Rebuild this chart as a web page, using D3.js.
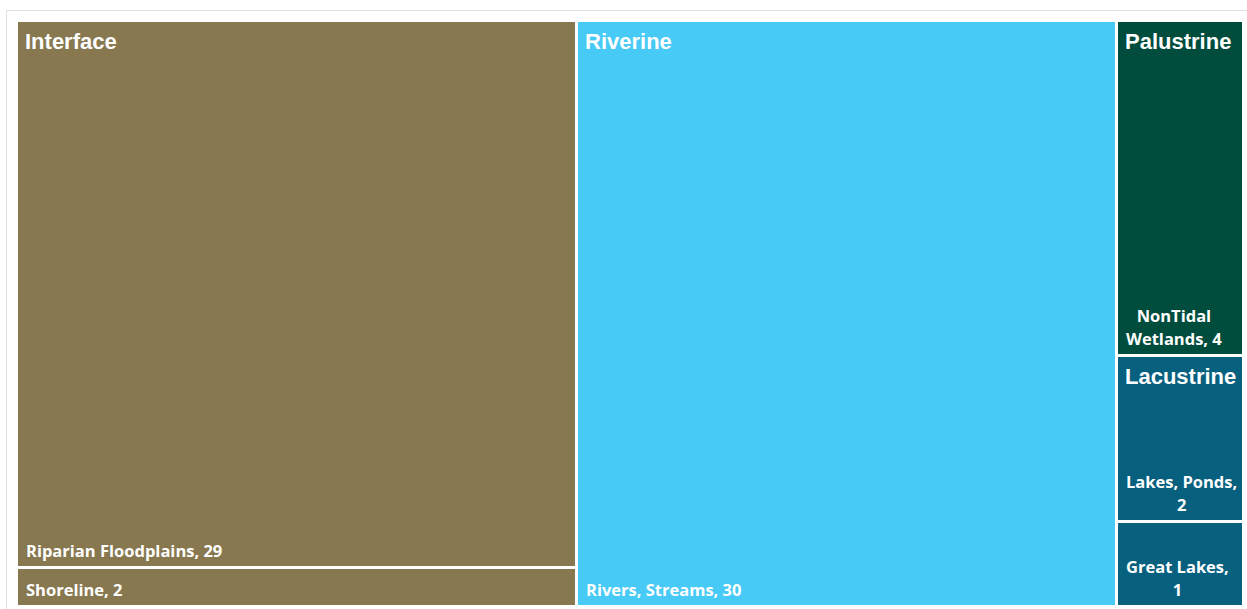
<!DOCTYPE html>
<html>
<head>
<meta charset="utf-8">
<script src="https://cdn.jsdelivr.net/npm/d3@7"></script>
<style>
  html, body { margin: 0; padding: 0; background: #fff; }
  svg { display: block; }
</style>
</head>
<body>
<svg id="chart" width="1247" height="609"></svg>
<script>
// Wetland / water-body types grouped by system, with counts
const groups = ["Interface", "Riverine", "Palustrine", "Lacustrine"];
const groupColors = ["#877850", "#47CAF5", "#004C3D", "#08607F"];
const leafGroup = ["Interface", "Interface", "Riverine", "Palustrine", "Lacustrine", "Lacustrine"];
const leafNames = ["Riparian Floodplains", "Shoreline", "Rivers, Streams", "NonTidal Wetlands", "Lakes, Ponds", "Great Lakes"];
const leafValues = [29, 2, 30, 4, 2, 1];

const svg = d3.select("#chart");
const W = 1247, H = 609;

// light frame around the visual
svg.append("rect")
  .attr("x", 6.5).attr("y", 10.5)
  .attr("width", W + 20).attr("height", H + 20)
  .attr("fill", "none").attr("stroke", "#e2e0e4").attr("stroke-width", 1);

const box = { x0: 18, y0: 22, x1: 1242, y1: 605 };
const bw = box.x1 - box.x0, bh = box.y1 - box.y0;
const gap = 3;

const tree = {
  name: "root",
  children: groups.map(g => ({
    name: g,
    children: leafNames
      .map((n, i) => ({ name: n, value: leafValues[i], group: leafGroup[i] }))
      .filter(d => d.group === g)
  }))
};

const root = d3.hierarchy(tree).sum(d => d.value || 0)
  .sort((a, b) => b.value - a.value);

d3.treemap()
  .tile(d3.treemapSquarify.ratio(1))
  .size([bw, bh])(root);

// white separators: pull every edge that is not on the outer boundary in by half the gap
const inset = (v, lo, hi, dir) => {
  if (dir < 0) return v > lo + 0.5 ? v + gap / 2 : v;
  return v < hi - 0.5 ? v - gap / 2 : v;
};
root.each(d => {
  d.rx0 = Math.round(inset(d.x0, 0, bw, -1));
  d.rx1 = Math.round(inset(d.x1, 0, bw, 1));
  d.ry0 = Math.round(inset(d.y0, 0, bh, -1));
  d.ry1 = Math.round(inset(d.y1, 0, bh, 1));
});

const color = d3.scaleOrdinal(groups, groupColors);

const g = svg.append("g").attr("transform", `translate(${box.x0},${box.y0})`);

// leaf cells
g.selectAll("rect.leaf")
  .data(root.leaves())
  .join("rect")
  .attr("class", "leaf")
  .attr("x", d => d.rx0).attr("y", d => d.ry0)
  .attr("width", d => d.rx1 - d.rx0).attr("height", d => d.ry1 - d.ry0)
  .attr("fill", d => color(d.parent.data.name));

// group headers
g.selectAll("text.group")
  .data(root.children)
  .join("text")
  .attr("class", "group")
  .attr("x", d => d.rx0 + 7)
  .attr("y", d => d.ry0 + 27)
  .attr("fill", "#fff")
  .style("font-family", "'Liberation Sans', Arial, sans-serif")
  .style("font-weight", "700")
  .style("font-size", "22px")
  .text(d => d.data.name);

// leaf labels: bottom-left, wrapped when the cell is narrow
const leafFont = "700 16.5px 'Open Sans', sans-serif";
const ctx = document.createElement("canvas").getContext("2d");
ctx.font = leafFont;
const lineH = 23;

root.leaves().forEach(d => {
  const label = `${d.data.name}, ${d.data.value}`;
  const avail = d.rx1 - d.rx0 - 10.5;
  const words = label.split(" ");
  const lines = [];
  let cur = "";
  words.forEach(w => {
    const test = cur ? cur + " " + w : w;
    if (cur && ctx.measureText(test).width > avail) { lines.push(cur); cur = w; }
    else cur = test;
  });
  lines.push(cur);
  const widths = lines.map(l => ctx.measureText(l).width);
  const maxW = d3.max(widths);
  const wrapped = lines.length > 1;
  const left = d.rx0 + 8;
  const t = g.append("text")
    .attr("fill", "#fff")
    .style("font", leafFont)
    .attr("text-anchor", wrapped ? "middle" : "start");
  lines.forEach((l, i) => {
    t.append("tspan")
      .attr("x", wrapped ? left + maxW / 2 : left)
      .attr("y", d.ry1 - 9 - (lines.length - 1 - i) * lineH)
      .text(l);
  });
});
</script>
</body>
</html>
